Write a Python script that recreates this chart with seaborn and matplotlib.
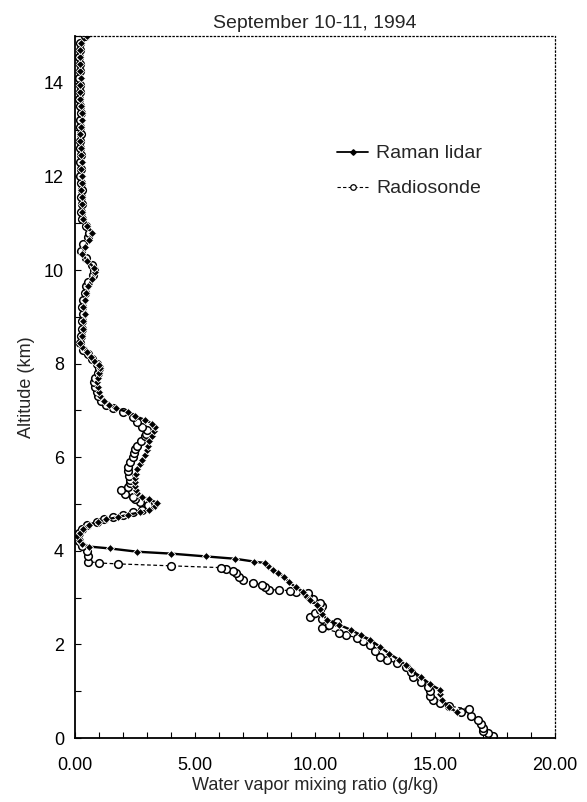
import numpy as np
import pandas as pd
import matplotlib
matplotlib.use("Agg")
import matplotlib.pyplot as plt
import seaborn as sns
from matplotlib.lines import Line2D
from matplotlib.ticker import MultipleLocator, FixedLocator

# ----- Data ----- #
lidar_alt = [0.55, 0.66, 0.81, 0.95, 1.03, 1.15, 1.31, 1.45, 1.55, 1.67, 1.80, 1.95,
             2.10, 2.20, 2.31, 2.42, 2.53, 2.65, 2.75, 2.85, 2.95, 3.05, 3.13, 3.22,
             3.34, 3.45, 3.52, 3.60, 3.67, 3.74, 3.77, 3.83, 3.88, 3.94, 3.98, 4.05,
             4.09, 4.15, 4.24, 4.32, 4.38, 4.47, 4.56, 4.62, 4.67, 4.72, 4.77, 4.82,
             4.88, 4.95, 5.03, 5.10, 5.16, 5.24, 5.30, 5.38, 5.46, 5.55, 5.65, 5.75,
             5.85, 5.95, 6.05, 6.15, 6.25, 6.35, 6.45, 6.55, 6.64, 6.72, 6.80, 6.88,
             6.96, 7.05, 7.12, 7.20, 7.30, 7.40, 7.50, 7.60, 7.70, 7.80, 7.90, 7.97,
             8.05, 8.15, 8.25, 8.35, 8.45, 8.60, 8.75, 8.90, 9.05, 9.20, 9.35, 9.50,
             9.65, 9.80, 9.95, 10.05, 10.20, 10.35, 10.50, 10.65, 10.80, 10.95, 11.10,
             11.25, 11.40, 11.55, 11.70, 11.85, 12.00, 12.15, 12.30, 12.45, 12.60,
             12.75, 12.90, 13.05, 13.20, 13.35, 13.50, 13.65, 13.80, 13.95, 14.10,
             14.25, 14.40, 14.55, 14.70, 14.85, 15.00]
lidar_wv = [15.9, 15.6, 15.3, 15.2, 15.2, 14.8, 14.4, 14.0, 13.8, 13.5, 13.1, 12.7,
            12.3, 11.9, 11.5, 11.0, 10.5, 10.3, 10.2, 10.1, 9.8, 9.6, 9.5, 9.2,
            8.9, 8.7, 8.45, 8.25, 8.05, 7.9, 7.46, 6.67, 5.46, 4.0, 2.6, 1.46,
            0.6, 0.3, 0.15, 0.1, 0.2, 0.35, 0.6, 0.95, 1.3, 1.8, 2.2, 2.7,
            3.1, 3.35, 3.4, 3.1, 2.8, 2.6, 2.55, 2.5, 2.5, 2.5, 2.55, 2.6,
            2.7, 2.8, 2.9, 3.0, 3.05, 3.1, 3.2, 3.3, 3.35, 3.2, 2.9, 2.5,
            2.2, 1.7, 1.4, 1.2, 1.05, 1.0, 0.95, 0.9, 0.95, 1.0, 1.05, 1.0,
            0.8, 0.65, 0.5, 0.3, 0.2, 0.3, 0.35, 0.35, 0.4, 0.35, 0.4, 0.45,
            0.55, 0.7, 0.85, 0.8, 0.5, 0.3, 0.4, 0.6, 0.7, 0.5, 0.35,
            0.3, 0.3, 0.3, 0.25, 0.3, 0.3, 0.25, 0.3, 0.25, 0.25,
            0.2, 0.2, 0.25, 0.3, 0.3, 0.25, 0.2, 0.2, 0.2, 0.25,
            0.2, 0.2, 0.2, 0.2, 0.25, 0.5]

sonde_alt = [0.05, 0.10, 0.15, 0.21, 0.30, 0.39, 0.47, 0.55, 0.62, 0.68, 0.74, 0.81,
             0.90, 1.00, 1.09, 1.20, 1.31, 1.42, 1.52, 1.60, 1.67, 1.73, 1.85, 1.99,
             2.07, 2.14, 2.20, 2.25, 2.35, 2.42, 2.48, 2.55, 2.59, 2.67, 2.74, 2.82,
             2.89, 2.98, 3.05, 3.10, 3.13, 3.15, 3.16, 3.17, 3.22, 3.27, 3.32, 3.38,
             3.45, 3.52, 3.56, 3.62, 3.64, 3.68, 3.72, 3.74, 3.77, 3.88, 4.00, 4.10,
             4.20, 4.30, 4.38, 4.47, 4.56, 4.62, 4.67, 4.72, 4.77, 4.82, 4.88, 4.93,
             4.98, 5.05, 5.10, 5.16, 5.22, 5.30, 5.36, 5.44, 5.52, 5.60, 5.70, 5.80,
             5.90, 6.00, 6.10, 6.17, 6.25, 6.35, 6.45, 6.50, 6.58, 6.65, 6.75, 6.85,
             6.96, 7.05, 7.12, 7.20, 7.30, 7.40, 7.50, 7.60, 7.70, 7.80, 7.90, 8.00,
             8.10, 8.20, 8.30, 8.45, 8.60, 8.75, 8.90, 9.05, 9.20, 9.35, 9.50, 9.65,
             9.75, 9.90, 10.00, 10.10, 10.25, 10.40, 10.55, 10.70, 10.80, 10.95, 11.10,
             11.25, 11.40, 11.55, 11.70, 11.85, 12.00, 12.15, 12.30, 12.45, 12.60,
             12.75, 12.90, 13.05, 13.20, 13.35, 13.50, 13.65, 13.80, 13.95, 14.10,
             14.25, 14.40, 14.55, 14.70, 14.85, 15.00]
sonde_wv = [17.4, 17.2, 17.0, 17.0, 16.9, 16.8, 16.5, 16.1, 16.4, 15.6, 15.2, 14.9,
            14.8, 14.8, 14.7, 14.4, 14.1, 14.0, 13.8, 13.4, 13.0, 12.7, 12.5, 12.3,
            12.0, 11.75, 11.3, 11.0, 10.3, 10.6, 10.9, 10.3, 9.8, 10.0, 10.2, 10.3,
            10.2, 9.9, 9.7, 9.7, 9.2, 8.95, 8.5, 8.1, 7.9, 7.8, 7.4, 7.0,
            6.85, 6.7, 6.6, 6.3, 6.1, 4.0, 1.8, 1.0, 0.55, 0.55, 0.5, 0.3,
            0.15, 0.1, 0.15, 0.3, 0.5, 0.9, 1.2, 1.6, 2.0, 2.4, 2.8, 3.1,
            3.05, 2.7, 2.5, 2.4, 2.1, 1.9, 2.2, 2.3, 2.3, 2.25, 2.2, 2.2,
            2.3, 2.4, 2.45, 2.5, 2.6, 2.75, 2.9, 2.95, 3.0, 2.8, 2.6, 2.4,
            2.0, 1.6, 1.3, 1.1, 0.95, 0.9, 0.85, 0.8, 0.85, 0.95, 1.0, 0.9,
            0.7, 0.55, 0.35, 0.2, 0.25, 0.3, 0.3, 0.35, 0.3, 0.35, 0.4, 0.45,
            0.55, 0.75, 0.8, 0.7, 0.45, 0.25, 0.35, 0.55, 0.6, 0.45, 0.3,
            0.25, 0.3, 0.25, 0.3, 0.25, 0.2, 0.25, 0.2, 0.25, 0.2,
            0.2, 0.25, 0.2, 0.2, 0.25, 0.2, 0.15, 0.2, 0.2, 0.15,
            0.2, 0.2, 0.15, 0.2, 0.2, 0.4]

xtick_vals = [0, 5, 10, 15, 20]
xtick_labels = ["0.00", "5.00", "10.00", "15.00", "20.00"]
ytick_vals = [0, 2, 4, 6, 8, 10, 12, 14]

# ----- Plot settings ----- #
sns.set_style("ticks")
plt.rcParams['font.family'] = ['Liberation Sans', 'DejaVu Sans']

df_lidar = pd.DataFrame({"wv": lidar_wv, "alt": lidar_alt})
df_sonde = pd.DataFrame({"wv": sonde_wv, "alt": sonde_alt})

fig = plt.figure(figsize=(5.87, 8.02), dpi=100)
ax = fig.add_axes([0.1278, 0.0798, 0.8177, 0.8753])

sns.lineplot(data=df_sonde, x="wv", y="alt", sort=False, estimator=None, ax=ax,
             color="black", linewidth=0.9, linestyle=(0, (3, 2)),
             marker="o", markersize=5.5, markerfacecolor="white",
             markeredgecolor="black", markeredgewidth=1.1)
sns.lineplot(data=df_lidar, x="wv", y="alt", sort=False, estimator=None, ax=ax,
             color="black", linewidth=1.7,
             marker="D", markersize=3.6, markeredgewidth=0.6)

ax.set_xlim(0, 20)
ax.set_ylim(0, 15)

ax.xaxis.set_major_locator(FixedLocator(xtick_vals))
ax.set_xticklabels(xtick_labels, fontsize=13)
ax.xaxis.set_minor_locator(MultipleLocator(1))
ax.yaxis.set_major_locator(FixedLocator(ytick_vals))
ax.set_yticklabels([str(v) for v in ytick_vals], fontsize=13)
ax.yaxis.set_minor_locator(MultipleLocator(1))
ax.tick_params(axis="both", which="both", direction="in", length=4, width=0.8,
               colors="black")
ax.tick_params(axis="x", which="major", pad=14)
ax.tick_params(axis="y", which="major", pad=8)

for side in ["top", "right"]:
    ax.spines[side].set_linestyle((0, (1, 2)))
    ax.spines[side].set_linewidth(0.9)
for side in ["left", "bottom"]:
    ax.spines[side].set_linewidth(1.3)
for s in ax.spines.values():
    s.set_color("black")

ax.set_xlabel("Water vapor mixing ratio (g/kg)", fontsize=13, labelpad=2)
ax.set_ylabel("Altitude (km)", fontsize=13, labelpad=6)
ax.set_title("September 10-11, 1994", fontsize=14, pad=6)

handles = [
    Line2D([], [], color="black", linewidth=1.3, marker="D", markersize=2.8),
    Line2D([], [], color="black", linewidth=0.8, linestyle=(0, (3, 2)), marker="o",
           markersize=4, markerfacecolor="white", markeredgewidth=0.9),
]
ax.legend(handles, ["Raman lidar", "Radiosonde"], loc="upper left",
          bbox_to_anchor=(0.51, 0.87), frameon=False, fontsize=14,
          handlelength=1.6, handletextpad=0.4, labelspacing=0.9)

plt.savefig("out.png", dpi=100)
